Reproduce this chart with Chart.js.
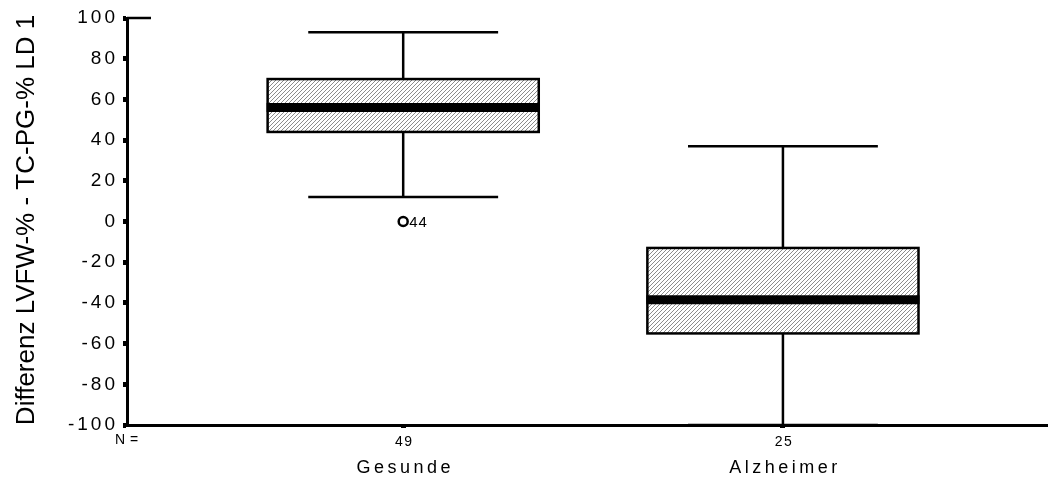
<!DOCTYPE html>
<html>
<head>
<meta charset="utf-8">
<script src="https://cdn.jsdelivr.net/npm/chart.js@4.4.1/dist/chart.umd.min.js"></script>
<style>
  html, body { margin: 0; padding: 0; background: #fff; overflow: hidden; }
  #wrap { width: 1048px; height: 481px; position: relative; }
</style>
</head>
<body>
<div id="wrap"><canvas id="c"></canvas></div>
<script>
// Group names, sample sizes and five-number summaries
const groups = ['Gesunde', 'Alzheimer'];
const counts = [49, 25];
const positions = [1, 2];
const whiskerLow = [12, -100];
const quartile1 = [44, -55];
const medians = [56, -38.5];
const quartile3 = [70, -13];
const whiskerHigh = [93, 37];

// Outlying cases
const outlierGroup = [1];
const outlierValues = [0];
const outlierCases = ['44'];

// Y axis ticks
const yTicks = [-100, -80, -60, -40, -20, 0, 20, 40, 60, 80, 100];
const yTitle = 'Differenz LVFW-% - TC-PG-% LD 1';

const FONT = "'Liberation Sans', Arial, sans-serif";

// diagonal hatch used to fill the boxes
function hatchPattern(ctx) {
  const t = document.createElement('canvas');
  t.width = 4; t.height = 4;
  const g = t.getContext('2d');
  g.fillStyle = '#fff';
  g.fillRect(0, 0, 4, 4);
  g.fillStyle = '#8c8c8c';
  for (let i = 0; i < 4; i++) g.fillRect(i, 3 - i, 1, 1);
  return ctx.createPattern(t, 'repeat');
}

const boxPlugin = {
  id: 'boxes',
  beforeDraw(chart) {
    chart.ctx.letterSpacing = '3px';
  },
  beforeDatasetsDraw(chart) {
    const ctx = chart.ctx;
    const xs = chart.scales.x, ys = chart.scales.y;
    const pat = hatchPattern(ctx);
    ctx.save();
    ctx.letterSpacing = '0px';

    // short stub along the top of the value axis
    ctx.strokeStyle = '#000';
    ctx.lineWidth = 2.5;
    ctx.beginPath();
    ctx.moveTo(xs.left, ys.getPixelForValue(100));
    ctx.lineTo(xs.left + 24, ys.getPixelForValue(100));
    ctx.stroke();

    for (let i = 0; i < groups.length; i++) {
      const cx = xs.getPixelForValue(positions[i]);
      const bl = xs.getPixelForValue(positions[i] - 0.357);
      const br = xs.getPixelForValue(positions[i] + 0.357);
      const cl = xs.getPixelForValue(positions[i] - 0.25);
      const cr = xs.getPixelForValue(positions[i] + 0.25);
      const yq1 = ys.getPixelForValue(quartile1[i]);
      const yq3 = ys.getPixelForValue(quartile3[i]);
      const ymed = ys.getPixelForValue(medians[i]);
      const ylo = ys.getPixelForValue(whiskerLow[i]);
      const yhi = ys.getPixelForValue(whiskerHigh[i]);

      ctx.strokeStyle = '#000';
      ctx.lineWidth = 2.5;
      ctx.beginPath();
      // whiskers
      ctx.moveTo(cx, yq3); ctx.lineTo(cx, yhi);
      ctx.moveTo(cx, yq1); ctx.lineTo(cx, ylo);
      // caps
      ctx.moveTo(cl, yhi); ctx.lineTo(cr, yhi);
      ctx.moveTo(cl, ylo); ctx.lineTo(cr, ylo);
      ctx.stroke();

      // box
      ctx.fillStyle = pat;
      ctx.fillRect(bl, yq3, br - bl, yq1 - yq3);
      ctx.strokeRect(bl, yq3, br - bl, yq1 - yq3);

      // median
      ctx.lineWidth = 9;
      ctx.beginPath();
      ctx.moveTo(bl - 1, ymed); ctx.lineTo(br + 1, ymed);
      ctx.stroke();
    }
    ctx.restore();
  },
  afterDraw(chart) {
    const ctx = chart.ctx;
    const xs = chart.scales.x, ys = chart.scales.y;
    ctx.save();
    ctx.letterSpacing = '0px';
    ctx.fillStyle = '#000';

    // axis title
    ctx.save();
    ctx.translate(34, 220);
    ctx.rotate(-Math.PI / 2);
    ctx.font = '26px ' + FONT;
    ctx.textAlign = 'center';
    ctx.textBaseline = 'alphabetic';
    ctx.fillText(yTitle, 0, 0);
    ctx.restore();

    // case numbers and group names under the axis
    ctx.font = '14px ' + FONT;
    ctx.textBaseline = 'middle';
    ctx.textAlign = 'left';
    ctx.letterSpacing = '0.5px';
    ctx.fillText('N =', 115, 440);
    ctx.textAlign = 'center';
    ctx.letterSpacing = '1.5px';
    for (let i = 0; i < groups.length; i++) {
      const cx = xs.getPixelForValue(positions[i]);
      ctx.fillText(String(counts[i]), cx + 1, 442);
    }
    ctx.font = '18px ' + FONT;
    ctx.letterSpacing = '3.5px';
    for (let i = 0; i < groups.length; i++) {
      const cx = xs.getPixelForValue(positions[i]);
      ctx.fillText(groups[i], cx + 2, 468);
    }

    // outlier labels
    ctx.font = '15px ' + FONT;
    ctx.letterSpacing = '1px';
    ctx.textAlign = 'left';
    for (let i = 0; i < outlierValues.length; i++) {
      const px = xs.getPixelForValue(outlierGroup[i]);
      const py = ys.getPixelForValue(outlierValues[i]);
      ctx.fillText(outlierCases[i], px + 6, py + 1);
    }
    ctx.restore();
    ctx.letterSpacing = '0px';
  }
};

new Chart(document.getElementById('c'), {
  type: 'scatter',
  data: {
    datasets: [{
      data: outlierValues.map((v, i) => ({ x: outlierGroup[i], y: v })),
      pointStyle: 'circle',
      radius: 4.5,
      borderWidth: 2.5,
      borderColor: '#000',
      backgroundColor: '#fff'
    }]
  },
  options: {
    responsive: true,
    maintainAspectRatio: false,
    animation: false,
    events: [],
    layout: { autoPadding: false, padding: { top: 18, right: 0, left: 0, bottom: 0 } },
    plugins: { legend: { display: false }, tooltip: { enabled: false } },
    scales: {
      x: {
        type: 'linear',
        min: 0.2727,
        max: 2.698,
        afterBuildTicks(scale) { scale.ticks = positions.map(v => ({ value: v })); },
        afterFit(scale) { scale.height = 56; },
        grid: { drawOnChartArea: false, drawTicks: true, tickLength: 3, tickWidth: 5, tickColor: '#000' },
        border: { display: true, color: '#000', width: 3 },
        ticks: { display: false }
      },
      y: {
        type: 'linear',
        min: -100,
        max: 100,
        afterBuildTicks(scale) { scale.ticks = yTicks.map(v => ({ value: v })); },
        afterFit(scale) { scale.width = 127; },
        grid: { drawOnChartArea: false, drawTicks: true, tickLength: 4, tickWidth: 5, tickColor: '#000' },
        border: { display: true, color: '#000', width: 3 },
        ticks: {
          color: '#000',
          padding: 5,
          font: { family: FONT, size: 19 },
          callback: v => String(v)
        }
      }
    }
  },
  plugins: [boxPlugin]
});
</script>
</body>
</html>
